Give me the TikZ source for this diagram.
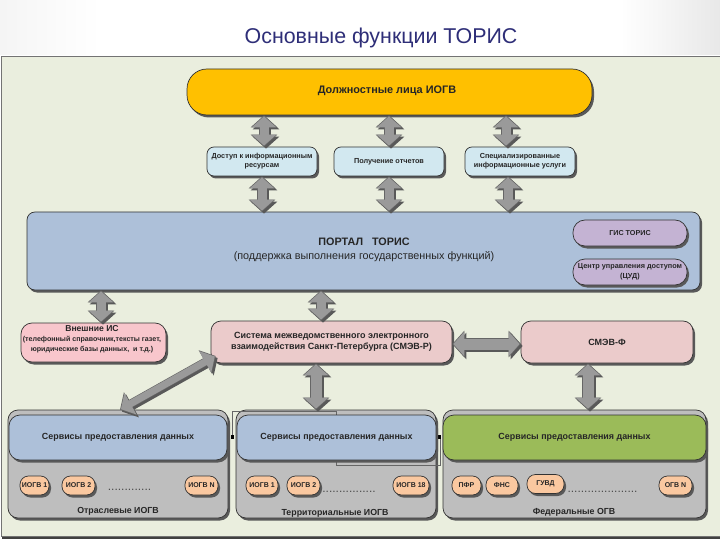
\documentclass[tikz,border=0pt]{standalone}
\usepackage{fontspec}
\setmainfont{Liberation Sans}
\usetikzlibrary{arrows.meta,shadows}
\definecolor{framefill}{HTML}{EAEEDE}
\definecolor{gold}{HTML}{FFC000}
\definecolor{paleblue}{HTML}{D2E8F0}
\definecolor{steel}{HTML}{ADC0D9}
\definecolor{lilac}{HTML}{C4B3D3}
\definecolor{pinkA}{HTML}{F8C6CC}
\definecolor{pinkB}{HTML}{EBCBCB}
\definecolor{greyA}{HTML}{BEBEBE}
\definecolor{grn}{HTML}{9BBB59}
\definecolor{peach}{HTML}{FAC8A0}
\definecolor{titleblue}{HTML}{2E2E78}
\definecolor{arrowgrey}{HTML}{9A9A9A}
\tikzset{
  shad/.style={general shadow={shadow xshift=2pt,shadow yshift=-2.5pt,fill=black!65}},
  box/.style={draw=black!80,line width=0.7pt,shad,inner sep=0pt,align=center,font=\fontsize{7.3}{9}\selectfont\bfseries,text=black!85},
  small/.style={box,fill=paleblue,minimum width=110,minimum height=29,rounded corners=7pt},
  serv/.style={box,minimum height=45,rounded corners=11pt,font=\fontsize{8.9}{10}\selectfont\bfseries},
  grp/.style={box,fill=greyA,minimum height=108,rounded corners=10pt},
  pill/.style={box,fill=peach,minimum height=19,rounded corners=8.5pt,font=\fontsize{7}{8}\selectfont\bfseries},
  smev/.style={box,fill=pinkB,minimum height=42,rounded corners=10pt,font=\fontsize{9}{11}\selectfont\bfseries},
  lab/.style={inner sep=0pt,font=\fontsize{8.8}{10}\selectfont\bfseries,text=black!85},
  dots/.style={inner sep=0pt,font=\fontsize{12}{12}\selectfont,text=black!70},
  fat/.style={line width=#1,arrowgrey,shorten >=1pt,shorten <=1pt,
    {Triangle[length=11pt,width=24pt]}-{Triangle[length=11pt,width=24pt]},
    preaction={draw,black!65,shorten >=0pt,shorten <=0pt,line width=#1+1.2pt,
      transform canvas={shift={(2pt,-2pt)}},
      {Triangle[length=12pt,width=26pt]}-{Triangle[length=12pt,width=26pt]}},
    preaction={draw,black!60,shorten >=0pt,shorten <=0pt,line width=#1+1.2pt,
      {Triangle[length=12pt,width=26pt]}-{Triangle[length=12pt,width=26pt]}}},
  fat/.default=9pt
}
\begin{document}
\begin{tikzpicture}[x=1pt,y=-1pt]
\useasboundingbox (0,0) rectangle (720,540);
\fill[white] (0,0) rectangle (720,540);
\shade[left color=white,right color=black!9] (620,0) rectangle (720,55);
\shade[left color=black!4,right color=white] (0,0) rectangle (100,55);
\node[font=\fontsize{21.4}{24}\selectfont,text=titleblue,inner sep=0pt] (title) at (381,38) {Основные функции ТОРИС};
\fill[black!75] (2,58) rectangle (720,538.5);
\draw[black!55,fill=framefill,line width=0.7pt] (1,56) rectangle (724,536);
% positions of the arrows
\coordinate (xa) at (264,0);\coordinate (xb) at (389,0);\coordinate (xc) at (506,0);
\coordinate (xd) at (262,0);\coordinate (xe) at (508,0);
\coordinate (xf) at (101,0);\coordinate (xg) at (321,0);
\coordinate (xh) at (316,0);\coordinate (xi) at (588,0);\coordinate (yj) at (0,344);
\node[box,fill=gold,minimum width=405,minimum height=46,rounded corners=20pt,minimum height=46] (top) at (389.5,92) {};
\node[inner sep=0pt,font=\fontsize{10.9}{12}\selectfont\bfseries,text=black!85] (toptxt) at (387,91) {Должностные лица ИОГВ};
\node[small] (d1) at (262,161.5) {Доступ к информационным\\ресурсам};
\node[small] (d2) at (389,161.5) {Получение отчетов};
\node[small] (d3) at (520,161.5) {Специализированные\\информационные услуги};
\node[box,fill=steel,minimum width=673,minimum height=78,rounded corners=8pt] (portal) at (363.5,251) {};
\node[inner sep=0pt,align=center,font=\fontsize{10.8}{14}\selectfont,text=black!85] (ptxt) at (364,250) {\textbf{ПОРТАЛ\ \ \ ТОРИС}\\(поддержка выполнения государственных функций)};
\node[box,fill=lilac,minimum width=114,minimum height=26,rounded corners=12pt,font=\fontsize{7.2}{8}\selectfont\bfseries] (gis) at (630,233) {ГИС ТОРИС};
\node[box,fill=lilac,minimum width=114,minimum height=26,rounded corners=12pt,font=\fontsize{7.3}{10}\selectfont\bfseries] (cud) at (630,272) {Центр управления доступом\\(ЦУД)};
\node[box,fill=pinkA,minimum width=145,minimum height=39,rounded corners=11pt] (ext) at (93.5,342.5) {};
\node[inner sep=0pt,align=center,font=\fontsize{7.1}{10}\selectfont\bfseries,text=black!85] (exttxt) at (92,339.5) {{\fontsize{8.6}{10}\selectfont Внешние ИС}\\(телефонный справочник,тексты газет,\\юридические базы данных,\ \ и т.д.)};
\node[smev,minimum width=241] (smr) at (331.5,342) {Система межведомственного электронного\\взаимодействия Санкт-Петербурга (СМЭВ-Р)};
\node[smev,minimum width=172] (smf) at (607,342) {СМЭВ-Ф};
% groups
\node[grp,minimum width=220] (g1) at (118,464) {};
\node[grp,minimum width=200] (g2) at (336,464) {};
\node[grp,minimum width=263] (g3) at (574.5,464) {};
\draw[black!60,line width=0.5pt] (232,437) -- (232,411) -- (336,411) -- (336,465) -- (440,465) -- (440,437);
\fill[black] (231,435) rectangle (234,439);
\fill[black] (437,435) rectangle (441,439);
\node[serv,fill=steel,minimum width=218] (s1) at (118,437.5) {Сервисы предоставления данных};
\node[serv,fill=steel,minimum width=199] (s2) at (336.5,437.5) {Сервисы предоставления данных};
\node[serv,fill=grn,minimum width=263] (s3) at (574.5,437.5) {Сервисы предоставления данных};
\node[pill,minimum width=29] (p1) at (34.5,485.5) {ИОГВ 1};
\node[pill,minimum width=33] (p2) at (78.5,485.5) {ИОГВ 2};
\node[pill,minimum width=33] (p3) at (201.5,485.5) {ИОГВ N};
\node[pill,minimum width=32] (p4) at (262,485.5) {ИОГВ 1};
\node[pill,minimum width=33] (p5) at (303.5,485.5) {ИОГВ 2};
\node[pill,minimum width=36] (p6) at (411,485.5) {ИОГВ 18};
\node[pill,minimum width=29] (p7) at (466.5,485.5) {ПФР};
\node[pill,minimum width=32] (p8) at (502,485.5) {ФНС};
\node[pill,minimum width=37] (p9) at (545.5,484) {ГУВД};
\node[pill,minimum width=33] (p10) at (675.5,485.5) {ОГВ N};
\node[dots] (t1) at (129.5,490) {.............};
\node[dots] (t2) at (349,492) {................};
\node[dots] (t3) at (602.5,492) {.....................};
\node[lab] (l1) at (118,511) {Отраслевые ИОГВ};
\node[lab] (l2) at (335,513) {Территориальные ИОГВ};
\node[lab] (l3) at (574,512) {Федеральные ОГВ};
% connectors
\draw[fat] (top.south -| xa) -- (d1.north -| xa);
\draw[fat] (top.south -| xb) -- (d2.north -| xb);
\draw[fat] (top.south -| xc) -- (d3.north -| xc);
\draw[fat] (d1.south -| xd) -- (portal.north -| xd);
\draw[fat] (d2.south -| xb) -- (portal.north -| xb);
\draw[fat] (d3.south -| xe) -- (portal.north -| xe);
\draw[fat] (portal.south -| xf) -- (ext.north -| xf);
\draw[fat] (portal.south -| xg) -- (smr.north -| xg);
\draw[fat=11pt] (smr.south -| xh) -- (g2.north -| xh);
\draw[fat=11pt] (smf.south -| xi) -- (g3.north -| xi);
\draw[fat=11pt] (smr.east |- yj) -- (smf.west |- yj);
\draw[fat=7pt] ([shift={(5,14)}]smr.west) -- ([shift={(2,0)}]g1.north);
\end{tikzpicture}
\end{document}
